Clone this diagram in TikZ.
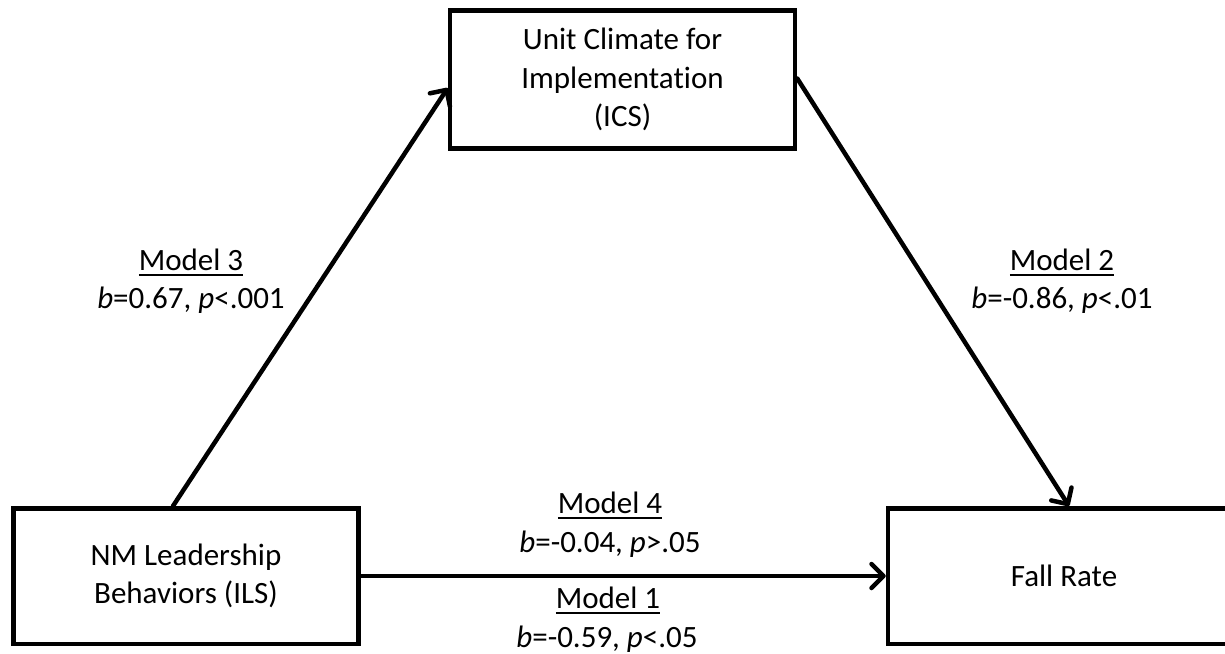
\documentclass[tikz,border=0pt]{standalone}
\usepackage{fontspec}
\setmainfont{Carlito}[Ligatures=NoCommon]
\usetikzlibrary{arrows.meta}
\newcommand\myul[1]{\setbox0\hbox{#1}\rlap{\rule[-6pt]{\wd0}{2pt}}\box0}
\begin{document}
\begin{tikzpicture}[x=1pt,y=-1pt,
  box/.style={draw, line width=4.5pt, minimum width=345pt, minimum height=136pt,
    align=center, font=\fontsize{31}{38.5}\selectfont, inner sep=0pt},
  conn/.style={line width=4.5pt, line cap=round,
    -{Straight Barb[length=12pt,width=24pt,round]}},
  lab/.style={anchor=base, font=\fontsize{31}{34}\selectfont, inner sep=0pt}]
\useasboundingbox (0,0) rectangle (1225,653);
\node[box, minimum height=138pt] (ics) at (622.5,79.5) {Unit Climate for\\Implementation\\(ICS)};
\node[box, minimum height=135.5pt] (ils) at (186,576) {NM Leadership\\Behaviors (ILS)};
\node[box, minimum width=352pt, minimum height=135.5pt] (fall) at (1064,576) {Fall Rate};
\draw[conn] ([xshift=-13pt]ils.north) -- ([yshift=-8.5pt]ics.west);
\draw[conn] ([yshift=1pt]ics.east) -- ([xshift=5pt]fall.north);
\draw[conn] (ils.east) -- (fall.west);
\node[lab] (m3) at (191,270) {\myul{Model 3}};
\node[lab] (m3b) at (191,308) {\textit{b}=0.67, \textit{p}<.001};
\node[lab] (m2) at (1062,270) {\myul{Model 2}};
\node[lab] (m2b) at (1062,308) {\textit{b}=-0.86, \textit{p}<.01};
\node[lab] (m4) at (610,513) {\myul{Model 4}};
\node[lab] (m4b) at (610,552) {\textit{b}=-0.04, \textit{p}>.05};
\node[lab] (m1) at (608,608) {\myul{Model 1}};
\node[lab] (m1b) at (607,647) {\textit{b}=-0.59, \textit{p}<.05};
\end{tikzpicture}
\end{document}
